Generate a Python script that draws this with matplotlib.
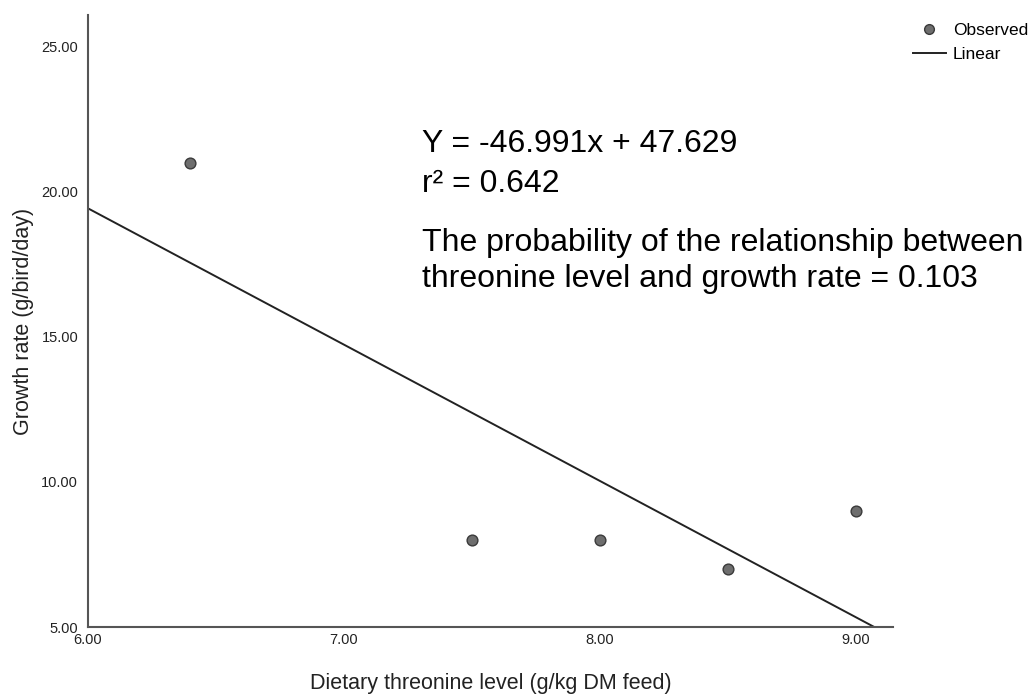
import numpy as np
import matplotlib.pyplot as plt
from matplotlib.lines import Line2D

plt.rcParams['font.family'] = ['Liberation Sans', 'DejaVu Sans']

# observed data
threonine = [6.4, 7.5, 8.0, 8.5, 9.0]
growth = [21.0, 8.0, 8.0, 7.0, 9.0]
x_ticks = [6.0, 7.0, 8.0, 9.0]
y_ticks = [5.0, 10.0, 15.0, 20.0, 25.0]

fig = plt.figure(figsize=(10.3, 6.97), dpi=100)
ax = fig.add_axes([0.0854, 0.1004, 0.7816, 0.8781])

# linear fit through the observed points
slope, intercept = np.polyfit(threonine, growth, 1)
xf = np.array([6.0, 9.2])
ax.plot(xf, slope * xf + intercept, color='#222222', lw=1.4, zorder=2)

ax.scatter(threonine, growth, s=60, color='#6e6e6e', edgecolors='#3a3a3a',
           linewidths=1.0, zorder=3)

ax.set_xlim(6.0, 9.145)
ax.set_ylim(5.0, 26.1)
ax.set_xticks(x_ticks)
ax.set_yticks(y_ticks)
ax.set_xticklabels([f'{v:.2f}' for v in x_ticks])
ax.set_yticklabels([f'{v:.2f}' for v in y_ticks])
ax.tick_params(length=0, labelsize=10.5, colors='#222222', pad=7)
ax.tick_params(axis='x', pad=4)
for s in ['top', 'right']:
    ax.spines[s].set_visible(False)
for s in ['left', 'bottom']:
    ax.spines[s].set_color('#555555')
    ax.spines[s].set_linewidth(1.5)

ax.set_xlabel('Dietary threonine level (g/kg DM feed)', fontsize=15.5,
              color='#222222', labelpad=19)
ax.set_ylabel('Growth rate (g/bird/day)', fontsize=15.5, color='#222222')
ax.yaxis.set_label_coords(-0.067, 0.5)

tx = 0.4097
ax.text(tx, 0.7819, 'Y = -46.991x + 47.629', transform=fig.transFigure,
        fontsize=23, color='black', va='baseline')
ax.text(tx, 0.7245, 'r² = 0.642', transform=fig.transFigure,
        fontsize=23, color='black', va='baseline')
ax.text(tx, 0.6399, 'The probability of the relationship between',
        transform=fig.transFigure, fontsize=23, color='black', va='baseline')
ax.text(tx, 0.5882, 'threonine level and growth rate = 0.103',
        transform=fig.transFigure, fontsize=23, color='black', va='baseline')

handles = [Line2D([], [], marker='o', ls='', markersize=7, color='#6e6e6e',
                  markeredgecolor='#3a3a3a'),
           Line2D([], [], color='#222222', lw=1.4)]
fig.legend(handles, ['Observed', 'Linear'], loc='upper left',
           bbox_to_anchor=(0.8796, 0.977), frameon=False, fontsize=12.5,
           handlelength=1.9, handletextpad=0.4, labelspacing=0.5,
           borderaxespad=0)

fig.savefig('out.png', dpi=100)
